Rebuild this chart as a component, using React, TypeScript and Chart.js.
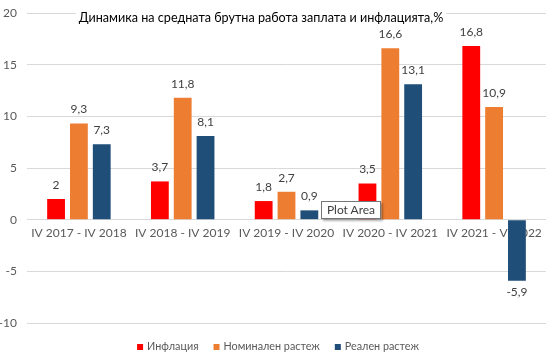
import React, { useEffect, useRef } from "react";
import { Chart, registerables } from "chart.js";
Chart.register(...registerables);

const categories = [
  "IV 2017 - IV 2018",
  "IV 2018 - IV 2019",
  "IV 2019 - IV 2020",
  "IV 2020 - IV 2021",
  "IV 2021 - VI 2022",
];
const inflation = [2, 3.7, 1.8, 3.5, 16.8];
const nominal = [9.3, 11.8, 2.7, 16.6, 10.9];
const real = [7.3, 8.1, 0.9, 13.1, -5.9];
const seriesNames = ["Инфлация", "Номинален растеж", "Реален растеж"];
const seriesColors = ["#FF0000", "#ED7D31", "#1F4E79"];
const yMin = -10;
const yMax = 20;
const yStep = 5;
const titleText = "Динамика на средната брутна работа заплата и инфлацията,%";
const tooltipText = "Plot Area";

const FONT = "Lato, 'Open Sans', sans-serif";

const labelPlugin = {
  id: "valueLabels",
  afterDatasetsDraw(chart: any) {
    const ctx = chart.ctx;
    ctx.save();
    ctx.font = `12px ${FONT}`;
    ctx.fillStyle = "#404040";
    ctx.textAlign = "center";
    ctx.textBaseline = "middle";
    chart.data.datasets.forEach((ds: any, i: number) => {
      const meta = chart.getDatasetMeta(i);
      meta.data.forEach((el: any, j: number) => {
        const v = ds.data[j];
        const txt = String(v).replace(".", ",");
        const y = v >= 0 ? el.y - 14 : el.y + 11;
        ctx.fillText(txt, el.x, y);
      });
    });
    ctx.restore();
  },
};

const titlePlugin = {
  id: "overlayTitle",
  afterDraw(chart: any) {
    const ctx = chart.ctx;
    ctx.save();
    ctx.font = `12.6px ${FONT}`;
    const w = ctx.measureText(titleText).width;
    const cx = 261;
    const cy = 18;
    ctx.fillStyle = "#ffffff";
    ctx.fillRect(cx - w / 2 - 3, cy - 10, w + 6, 20);
    ctx.fillStyle = "#000000";
    ctx.textAlign = "center";
    ctx.textBaseline = "middle";
    ctx.fillText(titleText, cx, cy);
    ctx.restore();
  },
};

const legendPlugin = {
  id: "customLegend",
  afterDraw(chart: any) {
    const ctx = chart.ctx;
    ctx.save();
    ctx.font = `10.8px ${FONT}`;
    ctx.textBaseline = "middle";
    const box = 6;
    const gapText = 4;
    const gapItem = 15;
    const widths = seriesNames.map((n) => box + gapText + ctx.measureText(n).width);
    const total = widths.reduce((a, b) => a + b, 0) + gapItem * (seriesNames.length - 1);
    let x = 278 - total / 2;
    const y = 347;
    seriesNames.forEach((n, i) => {
      ctx.fillStyle = seriesColors[i];
      ctx.fillRect(x, y - box / 2, box, box);
      ctx.fillStyle = "#595959";
      ctx.textAlign = "left";
      ctx.fillText(n, x + box + gapText, y);
      x += widths[i] + gapItem;
    });
    ctx.restore();
  },
};

export default function App() {
  const ref = useRef<HTMLCanvasElement | null>(null);
  useEffect(() => {
    if (!ref.current) return;
    const series = [inflation, nominal, real];
    const chart = new Chart(ref.current, {
      type: "bar",
      data: {
        labels: categories,
        datasets: series.map((d, i) => ({
          label: seriesNames[i],
          data: d,
          backgroundColor: seriesColors[i],
          categoryPercentage: 0.66,
          barPercentage: 0.78,
        })),
      },
      options: {
        animation: false,
        responsive: true,
        maintainAspectRatio: false,
        layout: { padding: { top: 13, right: 10, bottom: 36, left: 0 } },
        plugins: {
          legend: { display: false },
          title: { display: false },
          tooltip: { enabled: false },
        },
        scales: {
          x: {
            position: { y: 0 } as any,
            grid: { display: false, drawTicks: false },
            border: { display: false },
            ticks: {
              color: "#595959",
              font: { family: FONT, size: 12 },
              padding: 6,
              maxRotation: 0,
              autoSkip: false,
            },
            afterFit(scale: any) {
              scale.paddingLeft = 0;
              scale.paddingRight = 0;
            },
          },
          y: {
            min: yMin,
            max: yMax,
            grid: { color: "#D9D9D9", drawTicks: false },
            border: { display: false },
            ticks: {
              stepSize: yStep,
              color: "#595959",
              font: { family: FONT, size: 12 },
              padding: 10,
            },
            afterFit(scale: any) {
              scale.width = 27;
              scale.paddingTop = 0;
              scale.paddingBottom = 0;
            },
          },
        },
      },
      plugins: [labelPlugin, titlePlugin, legendPlugin],
    } as any);
    return () => chart.destroy();
  }, []);
  return (
    <div style={{ position: "absolute", left: 0, top: 0, width: 556, height: 359, background: "#fff" }}>
      <canvas ref={ref} />
      <div
        style={{
          position: "absolute",
          left: 321,
          top: 201,
          width: 60,
          height: 18,
          boxSizing: "border-box",
          border: "1px solid #767676",
          background: "#fff",
          boxShadow: "2px 2px 2px rgba(0,0,0,0.3)",
          font: `12px ${FONT}`,
          color: "#404040",
          lineHeight: "16px",
          textAlign: "center",
        }}
      >
        {tooltipText}
      </div>
    </div>
  );
}
